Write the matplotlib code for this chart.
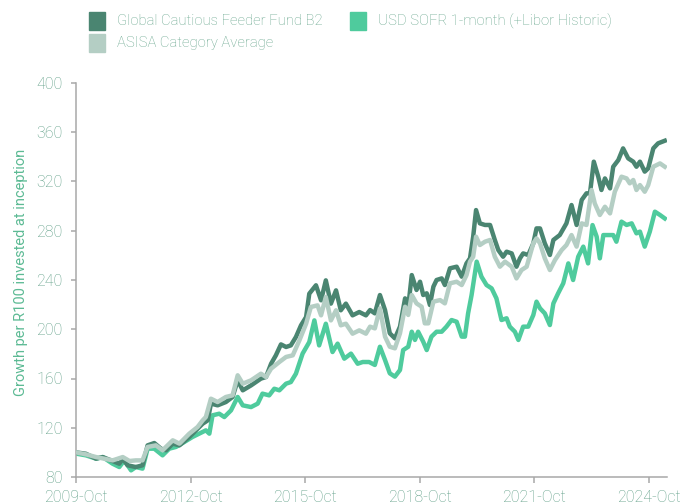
import matplotlib.pyplot as plt
from matplotlib.patches import Rectangle

# months since 2009-Oct, value per R100
fund_m = [0, 3.1, 6.3, 8.4, 11.5, 13.6, 14.7, 16.2, 18.8, 20.9, 22.5, 24.6, 26.7, 28.3, 30.4, 32.5,
          35.6, 37.7, 39.8, 41.4, 42.4, 44.5, 47.1, 49.2, 50.8, 52.4, 55.0, 58.1, 59.7, 61.3, 62.8,
          64.4, 66.0, 67.5, 69.1, 70.7, 72.3, 73.3, 75.4, 77.0, 78.5, 80.1, 81.7, 83.2, 84.8, 86.9,
          89.0, 91.1, 92.4, 93.9, 95.5, 97.1, 98.6, 100.2, 101.8, 103.4, 104.4, 105.5, 107.0, 108.1,
          109.1, 110.2, 111.2, 112.3, 113.3, 114.9, 115.9, 117.5, 119.6, 121.2, 122.7, 123.8, 124.8,
          125.7, 126.9, 128.5, 130.1, 131.6, 132.7, 134.2, 135.3, 136.9, 138.4, 139.5, 140.5, 142.1,
          143.7, 144.7, 145.8, 147.3, 148.9, 150.0, 152.0, 154.1, 155.7, 157.3, 158.9, 160.4, 161.5,
          162.7, 164.1, 165.1, 166.2, 167.8, 168.8, 170.4, 171.9, 173.5, 175.1, 176.1, 177.2, 178.7,
          179.8, 181.4, 182.9, 185.0]
fund_v = [100, 98.9, 94.9, 96.2, 93.0, 90.8, 94.9, 89.5, 88.1, 89.5, 105.7, 107.6, 103.0, 101.7, 107.1,
          105.7, 112.5, 117.9, 123.3, 126.0, 139.6, 138.2, 140.9, 145.0, 158.5, 150.4, 154.4, 159.9,
          161.2, 172.0, 178.8, 187.7, 185.6, 186.9, 193.7, 203.2, 209.9, 228.9, 235.7, 223.5, 239.7,
          220.8, 231.6, 215.4, 220.8, 211.3, 214.0, 211.3, 215.6, 212.9, 227.8, 215.6, 196.7, 192.6,
          202.1, 225.1, 218.3, 244.0, 231.9, 238.6, 227.8, 229.2, 219.7, 234.6, 240.0, 241.3, 235.9,
          249.5, 250.8, 242.7, 253.5, 257.6, 275.2, 296.8, 286.0, 284.7, 284.7, 272.5, 264.3, 258.9,
          263.0, 261.6, 250.8, 257.6, 261.6, 260.3, 269.8, 281.9, 281.9, 269.8, 260.3, 272.5, 276.5,
          286.0, 300.9, 284.7, 305.0, 310.4, 310.4, 336.1, 323.9, 313.1, 322.5, 314.4, 332.0, 337.4,
          346.9, 338.8, 336.1, 332.0, 336.1, 328.0, 330.7, 346.9, 351.0, 353.1]

asisa_m = [0, 3.1, 6.3, 11.5, 14.7, 16.8, 18.8, 20.9, 22.5, 25.1, 27.2, 30.4, 32.5, 35.6, 38.2, 39.8,
           40.8, 42.4, 44.5, 47.1, 49.2, 50.8, 52.4, 55.0, 58.1, 59.7, 61.3, 63.9, 66.0, 68.1, 70.2,
           72.3, 73.8, 75.9, 77.0, 78.5, 80.1, 81.7, 83.2, 84.8, 86.9, 89.0, 91.1, 92.4, 93.9, 95.5,
           97.1, 98.6, 100.2, 101.8, 103.4, 104.4, 105.5, 107.0, 108.6, 109.6, 110.7, 112.3, 114.4,
           115.9, 117.5, 119.6, 121.2, 122.7, 123.8, 124.8, 125.7, 126.9, 128.5, 130.1, 131.6, 133.2,
           134.8, 136.9, 138.4, 140.0, 141.6, 143.7, 144.7, 145.8, 147.3, 148.9, 150.5, 152.6, 154.1,
           155.7, 157.3, 158.9, 160.4, 162.0, 163.0, 164.6, 166.2, 167.8, 169.3, 171.4, 173.0, 174.0,
           175.1, 176.1, 177.2, 178.7, 179.8, 181.4, 183.5, 185.0]
asisa_v = [100, 98.4, 96.2, 93.5, 96.2, 93.0, 93.5, 93.5, 104.4, 105.7, 101.7, 109.8, 107.1, 115.2,
           120.6, 126.0, 128.7, 143.6, 140.9, 145.0, 146.3, 162.6, 155.8, 158.5, 163.9, 161.2, 168.0,
           173.4, 177.5, 178.8, 191.0, 204.5, 218.1, 219.4, 211.3, 226.2, 207.2, 215.4, 203.2, 204.5,
           196.4, 199.1, 196.4, 202.1, 200.7, 217.0, 194.0, 185.8, 184.5, 196.7, 218.3, 211.6, 227.8,
           221.0, 218.3, 204.8, 204.8, 222.4, 223.7, 221.0, 237.3, 238.6, 235.9, 244.0, 254.9, 258.9,
           275.2, 268.4, 271.1, 272.5, 258.9, 250.8, 254.9, 250.8, 241.3, 248.1, 250.8, 269.8, 273.8,
           269.8, 257.6, 248.1, 256.2, 264.3, 268.4, 276.5, 267.1, 286.0, 284.7, 313.1, 302.2, 292.8,
           299.5, 294.1, 311.7, 323.9, 322.5, 318.5, 321.2, 313.1, 317.1, 311.7, 317.1, 332.0, 334.7,
           332.0]

sofr_m = [0, 3.1, 6.3, 8.4, 11.5, 13.6, 15.2, 17.3, 18.8, 20.9, 22.5, 24.6, 27.2, 29.3, 31.4, 34.0,
          36.6, 38.7, 40.8, 41.9, 42.9, 45.0, 46.6, 48.7, 50.8, 52.4, 55.0, 57.1, 58.6, 60.7, 62.3,
          63.9, 66.0, 67.5, 69.1, 71.2, 73.3, 74.9, 76.4, 78.5, 80.6, 82.2, 84.3, 86.4, 88.5, 90.1,
          92.1, 93.9, 95.5, 97.1, 98.6, 100.2, 101.8, 102.8, 104.4, 105.5, 106.5, 107.5, 109.1, 110.2,
          111.7, 113.3, 114.9, 116.4, 118.0, 119.6, 121.2, 122.2, 123.2, 124.3, 125.9, 127.4, 129.0,
          130.6, 132.1, 133.7, 135.3, 136.3, 137.9, 139.0, 140.5, 142.1, 143.7, 144.7, 145.8, 147.3,
          148.9, 150.0, 151.5, 153.1, 154.7, 156.2, 157.8, 159.4, 160.9, 162.3, 163.6, 164.6, 165.7,
          167.2, 168.8, 169.8, 171.4, 173.0, 174.6, 176.1, 177.2, 178.7, 180.3, 181.9, 183.5, 185.0]
sofr_v = [99.0, 97.6, 94.9, 96.2, 90.8, 88.1, 93.5, 85.4, 88.1, 86.8, 103.0, 103.0, 97.6, 103.0, 104.4,
          108.4, 112.5, 115.2, 117.9, 115.2, 130.1, 131.4, 128.7, 134.1, 145.0, 138.2, 136.8, 139.6,
          147.7, 146.3, 151.7, 150.4, 155.8, 157.1, 163.9, 180.2, 189.6, 207.2, 186.9, 204.5, 181.5,
          188.3, 176.1, 180.2, 172.0, 173.4, 173.4, 171.0, 185.8, 175.0, 164.2, 161.5, 166.9, 183.1,
          185.8, 198.0, 191.3, 198.0, 189.9, 183.1, 194.0, 198.0, 198.0, 202.1, 207.5, 206.1, 194.0,
          194.0, 212.9, 227.8, 254.9, 242.7, 235.9, 233.2, 225.1, 207.5, 208.9, 202.1, 198.0, 191.3,
          202.1, 202.1, 211.6, 222.4, 217.0, 212.9, 203.4, 221.0, 229.2, 237.3, 253.5, 240.0, 258.9,
          267.1, 253.5, 284.6, 275.2, 257.6, 276.5, 276.5, 276.5, 271.1, 287.4, 284.7, 286.0, 277.9,
          279.3, 267.1, 279.3, 295.5, 292.8, 290.0]

tick_pos = [0, 36, 72, 108, 144, 180]
tick_lbl = ['2009-Oct', '2012-Oct', '2015-Oct', '2018-Oct', '2021-Oct', '2024-Oct']
y_ticks = [80, 120, 160, 200, 240, 280, 320, 360, 400]

names = ['Global Cautious Feeder Fund B2', 'ASISA Category Average', 'USD SOFR 1-month (+Libor Historic)']
colors = ['#4a8571', '#b4cec4', '#4fcb9d']

plt.rcParams['font.family'] = ['Roboto', 'DejaVu Sans']
plt.rcParams['font.weight'] = 'light'
txt_col = '#5e9e86'

fig = plt.figure(figsize=(6.81, 5.04), dpi=100)
ax = fig.add_axes([76 / 681, 27 / 504, 591 / 681, 394 / 504])

ax.plot(sofr_m, sofr_v, color=colors[2], lw=3.2, solid_joinstyle='round', zorder=2)
ax.plot(fund_m, fund_v, color=colors[0], lw=3.2, solid_joinstyle='round', zorder=3)
ax.plot(asisa_m, asisa_v, color=colors[1], lw=3.2, solid_joinstyle='round', zorder=4)

ax.set_xlim(0, 185.7)
ax.set_ylim(80, 400)
ax.set_xticks(tick_pos)
ax.set_xticklabels(tick_lbl)
ax.set_yticks(y_ticks)
for s in ['top', 'right']:
    ax.spines[s].set_visible(False)
for s in ['left', 'bottom']:
    ax.spines[s].set_color('#a8a8a8')
    ax.spines[s].set_linewidth(1.1)
ax.tick_params(axis='both', colors='#a8a8a8', labelcolor=txt_col, labelsize=11.5, width=1.1)
ax.tick_params(axis='y', length=3.5, pad=6)
ax.tick_params(axis='x', length=4, pad=5)
ax.set_ylabel('Growth per R100 invested at inception', color='#5cba94', fontsize=10.5)
ax.yaxis.set_label_coords((28 - 76) / 591, 0.52)

# legend boxes drawn in figure space
leg = [(0, 89, 21), (1, 89, 43), (2, 350, 21)]
for i, x0, yc in leg:
    fig.patches.append(Rectangle((x0 / 681, 1 - (yc + 9) / 504), 16 / 681, 18 / 504,
                                 transform=fig.transFigure, color=colors[i]))
    fig.text((x0 + 28) / 681, 1 - yc / 504, names[i], color='#68a68d', fontsize=10.7, va='center')

fig.savefig('out.png', dpi=100)
